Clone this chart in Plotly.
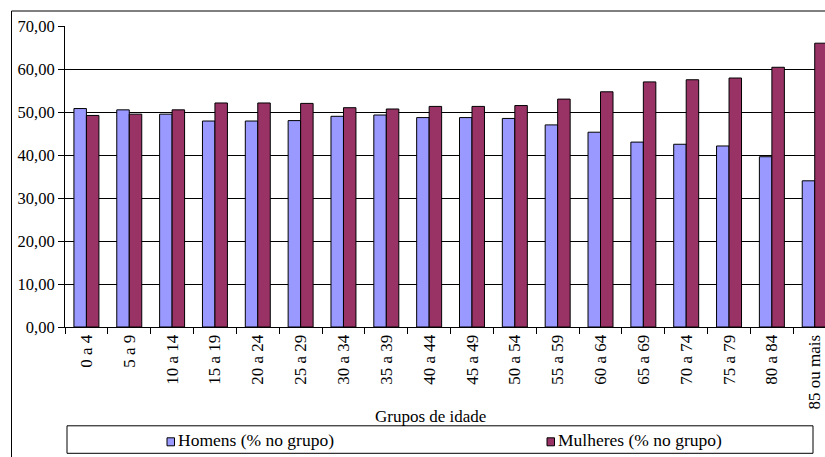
import plotly.graph_objects as go

# Age groups and share of each sex within the group (%)
grupos = ["0 a 4", "5 a 9", "10 a 14", "15 a 19", "20 a 24", "25 a 29", "30 a 34",
          "35 a 39", "40 a 44", "45 a 49", "50 a 54", "55 a 59", "60 a 64", "65 a 69",
          "70 a 74", "75 a 79", "80 a 84", "85 ou mais"]
homens = [50.8, 50.5, 49.5, 47.9, 47.9, 48.0, 49.0, 49.3, 48.7, 48.7, 48.5,
          47.0, 45.3, 43.0, 42.5, 42.1, 39.6, 34.0]
mulheres = [49.2, 49.5, 50.5, 52.1, 52.1, 52.0, 51.0, 50.7, 51.3, 51.3, 51.5,
            53.0, 54.7, 57.0, 57.5, 57.9, 60.4, 66.0]

nome_h = "Homens (% no grupo)"
nome_m = "Mulheres (% no grupo)"
cor_h = "#9999FF"
cor_m = "#993366"
titulo_x = "Grupos de idade"

FONT = "Liberation Serif"
W, H = 825, 457
L, R, T, B = 65, 825, 25.7, 326.7   # plot area in pixels
PW, PH = R - L, B - T


def px_x(p):
    return (p - L) / PW


def px_y(p):
    return (B - p) / PH


fig = go.Figure()
fig.add_trace(go.Bar(x=grupos, y=homens, name=nome_h, marker=dict(color=cor_h, line=dict(color="black", width=1))))
fig.add_trace(go.Bar(x=grupos, y=mulheres, name=nome_m, marker=dict(color=cor_m, line=dict(color="black", width=1))))

shapes = [
    # chart frame (left and top edges)
    dict(type="line", xref="paper", yref="paper", x0=px_x(11.5), x1=px_x(11.5), y0=px_y(10.7), y1=px_y(460),
         line=dict(color="black", width=1)),
    dict(type="line", xref="paper", yref="paper", x0=px_x(11.5), x1=px_x(830), y0=px_y(10.7), y1=px_y(10.7),
         line=dict(color="black", width=1)),
    # legend box
    dict(type="rect", xref="paper", yref="paper", x0=px_x(67), x1=px_x(813), y0=px_y(425.5), y1=px_y(453),
         line=dict(color="black", width=1), fillcolor="white"),
    # legend swatches
    dict(type="rect", xref="paper", yref="paper", x0=px_x(167), x1=px_x(174.5), y0=px_y(437.5), y1=px_y(445.5),
         line=dict(color="black", width=1), fillcolor=cor_h),
    dict(type="rect", xref="paper", yref="paper", x0=px_x(547), x1=px_x(554.5), y0=px_y(437.5), y1=px_y(445.5),
         line=dict(color="black", width=1), fillcolor=cor_m),
]

annotations = [
    dict(text=titulo_x, xref="paper", yref="paper", x=px_x(430), y=px_y(416), xanchor="center", yanchor="middle",
         showarrow=False, font=dict(family=FONT, size=17, color="black")),
    dict(text=nome_h, xref="paper", yref="paper", x=px_x(176), y=px_y(440), xanchor="left", yanchor="middle",
         showarrow=False, font=dict(family=FONT, size=17.5, color="black")),
    dict(text=nome_m, xref="paper", yref="paper", x=px_x(556), y=px_y(440), xanchor="left", yanchor="middle",
         showarrow=False, font=dict(family=FONT, size=17.5, color="black")),
]

fig.update_layout(
    width=W, height=H,
    margin=dict(l=L, r=W - R, t=T, b=H - B, autoexpand=False),
    paper_bgcolor="white", plot_bgcolor="white",
    barmode="group", bargap=0.417, bargroupgap=0,
    showlegend=False,
    separators=",.",
    font=dict(family=FONT, color="black"),
    shapes=shapes, annotations=annotations,
)
fig.update_xaxes(
    type="category", range=[-0.5, 17.24], tickangle=-90, tickson="boundaries",
    ticks="outside", ticklen=6, tickcolor="black", showline=True, linecolor="black", linewidth=1,
    showgrid=False, tickfont=dict(family=FONT, size=17, color="black"), automargin=False,
)
fig.update_yaxes(
    range=[0, 70], dtick=10, tickformat=".2f", ticks="outside", ticklen=6, tickcolor="black",
    showline=True, linecolor="black", linewidth=1, showgrid=True, gridcolor="black", gridwidth=1,
    zeroline=False, tickfont=dict(family=FONT, size=16.5, color="black"), automargin=False,
)

fig.write_html("out.html")
